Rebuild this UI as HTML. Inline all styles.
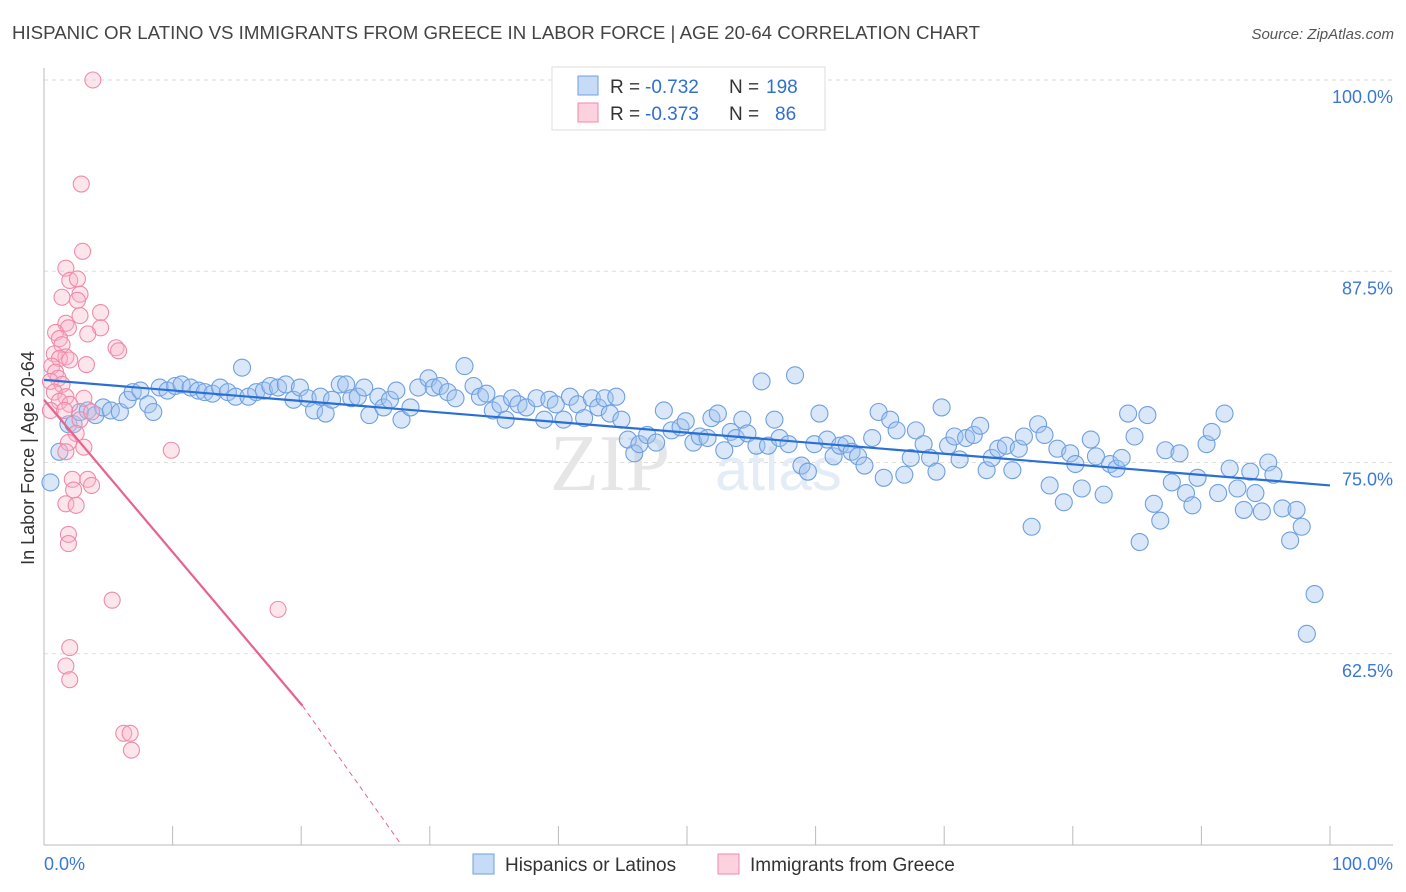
<!DOCTYPE html>
<html><head><meta charset="utf-8">
<style>
body{margin:0;background:#fff;font-family:"Liberation Sans",sans-serif;}
#wrap{position:relative;width:1406px;height:892px;overflow:hidden;}
</style></head>
<body>
<div id="wrap">
<svg id="svg" width="1406" height="892" xmlns="http://www.w3.org/2000/svg">
<text x="12" y="39" font-size="18" fill="#444" textLength="968" lengthAdjust="spacingAndGlyphs">HISPANIC OR LATINO VS IMMIGRANTS FROM GREECE IN LABOR FORCE | AGE 20-64 CORRELATION CHART</text>
<text x="1394" y="39" font-size="15" fill="#555" font-style="italic" text-anchor="end">Source: ZipAtlas.com</text>
<text x="34" y="458" font-size="18" fill="#333" text-anchor="middle" transform="rotate(-90 34 458)">In Labor Force | Age 20-64</text>
<g id="grid"></g>
<text x="550" y="490" font-size="80" fill="#e6e6e6" font-family="Liberation Serif">ZIP</text>
<text x="715" y="490" font-size="60" fill="#e3ecf7">atlas</text>
<g id="pts"></g>
<g id="lines"></g>
<g>
<rect x="552" y="67" width="273" height="63" fill="#fff" stroke="#ddd"/>
<rect x="578" y="76" width="20" height="19" fill="rgba(160,196,240,0.6)" stroke="#6fa0e0"/>
<rect x="578" y="103" width="20" height="19" fill="rgba(248,180,200,0.6)" stroke="#f08aaa"/>
<text x="610" y="93" font-size="19" fill="#333">R =</text>
<text x="645" y="93" font-size="19" fill="#2f6fd0">-0.732</text>
<text x="729" y="93" font-size="19" fill="#333">N =</text>
<text x="766" y="93" font-size="19" fill="#2f6fd0">198</text>
<text x="610" y="120" font-size="19" fill="#333">R =</text>
<text x="645" y="120" font-size="19" fill="#2f6fd0">-0.373</text>
<text x="729" y="120" font-size="19" fill="#333">N =</text>
<text x="775" y="120" font-size="19" fill="#2f6fd0">86</text>
</g>
<g>
<rect x="473" y="854" width="21" height="20" fill="rgba(160,196,240,0.6)" stroke="#6fa0e0"/>
<text x="505" y="871" font-size="19" fill="#333">Hispanics or Latinos</text>
<rect x="718" y="854" width="21" height="20" fill="rgba(248,180,200,0.6)" stroke="#f08aaa"/>
<text x="750" y="871" font-size="19" fill="#333">Immigrants from Greece</text>
</g>
</svg>
</div>
<script>
const blueX=[0.5,1.2,1.9,2.3,2.8,3.4,4.0,4.6,5.2,5.9,6.5,6.9,7.5,8.1,8.5,9.0,9.6,10.2,10.7,11.4,12.0,12.5,13.1,13.7,14.3,14.9,15.4,15.9,16.5,17.1,17.6,18.2,18.8,19.4,19.9,20.5,21.0,21.5,21.9,22.4,23.0,23.5,23.9,24.4,24.9,25.3,26.0,26.4,26.9,27.4,27.8,28.5,29.1,29.9,30.3,30.8,31.4,32.0,32.7,33.4,33.9,34.4,34.9,35.5,35.9,36.4,36.9,37.5,38.3,38.9,39.3,39.8,40.4,40.9,41.5,42.0,42.6,43.1,43.6,44.0,44.5,44.9,45.4,45.9,46.3,46.9,47.6,48.2,48.8,49.5,49.9,50.5,51.0,51.6,51.9,52.4,52.9,53.4,53.8,54.3,54.7,55.4,55.8,56.3,56.8,57.2,57.9,58.4,58.9,59.4,59.9,60.3,60.9,61.4,61.9,62.4,62.8,63.3,63.8,64.4,64.9,65.3,65.8,66.3,66.9,67.4,67.8,68.4,68.9,69.4,69.8,70.3,70.8,71.2,71.7,72.3,72.8,73.3,73.7,74.2,74.8,75.3,75.8,76.2,76.8,77.3,77.8,78.2,78.8,79.3,79.8,80.2,80.7,81.4,81.8,82.4,82.9,83.4,83.8,84.3,84.8,85.2,85.8,86.3,86.8,87.2,87.7,88.3,88.8,89.3,89.7,90.4,90.8,91.3,91.8,92.2,92.8,93.3,93.8,94.2,94.7,95.2,95.6,96.3,96.9,97.4,97.8,98.8,98.2];
const blueY=[73.7,75.7,77.5,77.5,78.3,78.4,78.1,78.6,78.4,78.3,79.1,79.6,79.7,78.8,78.3,79.9,79.7,80.0,80.1,79.9,79.7,79.6,79.5,79.9,79.6,79.3,81.2,79.3,79.6,79.7,80.0,79.9,80.1,79.1,79.9,79.2,78.4,79.3,78.2,79.1,80.1,80.1,79.2,79.3,79.9,78.1,79.3,78.6,79.1,79.7,77.8,78.6,79.9,80.5,79.9,80.0,79.6,79.2,81.3,80.0,79.3,79.5,78.4,78.8,77.8,79.2,78.8,78.6,79.2,77.8,79.1,78.8,77.8,79.3,78.8,77.9,79.2,78.6,79.2,78.2,79.3,77.8,76.5,75.6,76.2,76.8,76.3,78.4,77.1,77.3,77.7,76.3,76.7,76.6,77.9,78.2,75.8,77.0,76.6,77.8,76.9,76.1,80.3,76.1,77.8,76.6,76.2,80.7,74.8,74.4,76.2,78.2,76.5,75.4,76.1,76.2,75.7,75.4,74.8,76.6,78.3,74.0,77.8,77.1,74.2,75.3,77.1,76.2,75.3,74.4,78.6,76.1,76.7,75.2,76.6,76.8,77.4,74.5,75.3,75.9,76.1,74.5,75.9,76.7,70.8,77.5,76.8,73.5,75.9,72.4,75.6,74.9,73.3,76.5,75.4,72.9,74.9,74.6,75.3,78.2,76.7,69.8,78.1,72.3,71.2,75.8,73.7,75.6,73.0,72.2,74.0,76.2,77.0,73.0,78.2,74.6,73.3,71.9,74.4,73.0,71.8,75.0,74.2,72.0,69.9,71.9,70.8,66.4,63.8];
const pinkX=[3.8,2.9,3.0,1.7,2.0,2.6,1.4,2.8,2.6,4.4,2.8,1.7,1.9,4.4,0.9,1.2,3.4,1.4,5.6,5.8,0.8,1.7,1.2,2.0,3.3,0.6,0.9,1.1,0.5,1.4,0.8,1.7,3.1,1.2,2.0,0.5,1.6,2.8,3.7,2.5,1.9,3.1,1.7,9.9,2.2,2.3,3.4,3.7,1.7,2.5,1.9,1.9,5.3,18.2,2.0,1.7,2.0,6.2,6.7,6.8];
const pinkY=[100,93.2,88.8,87.7,86.9,87.0,85.8,86.0,85.6,84.8,84.6,84.1,83.8,83.8,83.5,83.1,83.4,82.7,82.5,82.3,82.1,81.9,81.8,81.7,81.4,81.3,80.9,80.5,80.3,80.1,79.6,79.3,79.2,79.0,78.8,78.4,78.4,77.8,78.3,76.9,76.3,76.0,75.7,75.8,73.9,73.2,73.9,73.5,72.3,72.2,70.3,69.7,66.0,65.4,62.9,61.7,60.8,57.3,57.3,56.2];
const blueTrend=[0,80.4,100,73.5];
const pinkTrend=[0,79.1,20.1,59.1,27.8,50];
const yTicks=[100,87.5,75,62.5];
const yTickLabels=["100.0%","87.5%","75.0%","62.5%"];
const xTickVals=[0,10,20,30,40,50,60,70,80,90,100];
const NS="http://www.w3.org/2000/svg";
const X=v=>44+v*12.86, Y=v=>80+(100-v)*15.3;
function mk(t,a,p){const e=document.createElementNS(NS,t);for(const k in a)e.setAttribute(k,a[k]);p.appendChild(e);return e;}
const grid=document.getElementById('grid'),pts=document.getElementById('pts'),lines=document.getElementById('lines');
yTicks.forEach((v,i)=>{
 const l=mk('line',{x1:44,x2:1393,y1:Y(v),y2:Y(v),stroke:'#ddd','stroke-dasharray':'4,4'},grid);
 
 
 const t=mk('text',{x:1393,y:Y(v)+23,'font-size':18,fill:'#3a78d6','text-anchor':'end'},grid);t.textContent=yTickLabels[i];
 
 
});
const ax=mk('line',{x1:44,x2:1393,y1:845,y2:845,stroke:'#bbb'},grid);


const ay=mk('line',{x1:44,x2:44,y1:68,y2:845,stroke:'#bbb'},grid);


xTickVals.forEach(v=>{const t=mk('line',{x1:X(v),x2:X(v),y1:826,y2:845,stroke:'#bbb'},grid);
 
 });
const x0=mk('text',{x:44,y:870,'font-size':18,fill:'#3a78d6'},grid);x0.textContent='0.0%';


const x1=mk('text',{x:1393,y:870,'font-size':18,fill:'#3a78d6','text-anchor':'end'},grid);x1.textContent='100.0%';


blueX.forEach((v,i)=>{const c=mk('circle',{cx:X(v),cy:Y(blueY[i]),r:8.5,fill:'rgba(160,196,240,0.4)',stroke:'#6fa0e0','stroke-width':1.1},pts);
 
 });
pinkX.forEach((v,i)=>{const c=mk('circle',{cx:X(v),cy:Y(pinkY[i]),r:8,fill:'rgba(248,180,200,0.35)',stroke:'#f08aaa','stroke-width':1.1},pts);
 
 });
const bl=mk('line',{x1:X(blueTrend[0]),y1:Y(blueTrend[1]),x2:X(blueTrend[2]),y2:Y(blueTrend[3]),stroke:'#2a6fd6','stroke-width':2.2},lines);


const pl=mk('line',{x1:X(pinkTrend[0]),y1:Y(pinkTrend[1]),x2:X(pinkTrend[2]),y2:Y(pinkTrend[3]),stroke:'#e8628e','stroke-width':2.2},lines);


const pd=mk('line',{x1:X(pinkTrend[2]),y1:Y(pinkTrend[3]),x2:X(pinkTrend[4]),y2:Y(pinkTrend[5]),stroke:'#e8628e','stroke-width':1,'stroke-dasharray':'5,4'},lines);


</script>
</body></html>
